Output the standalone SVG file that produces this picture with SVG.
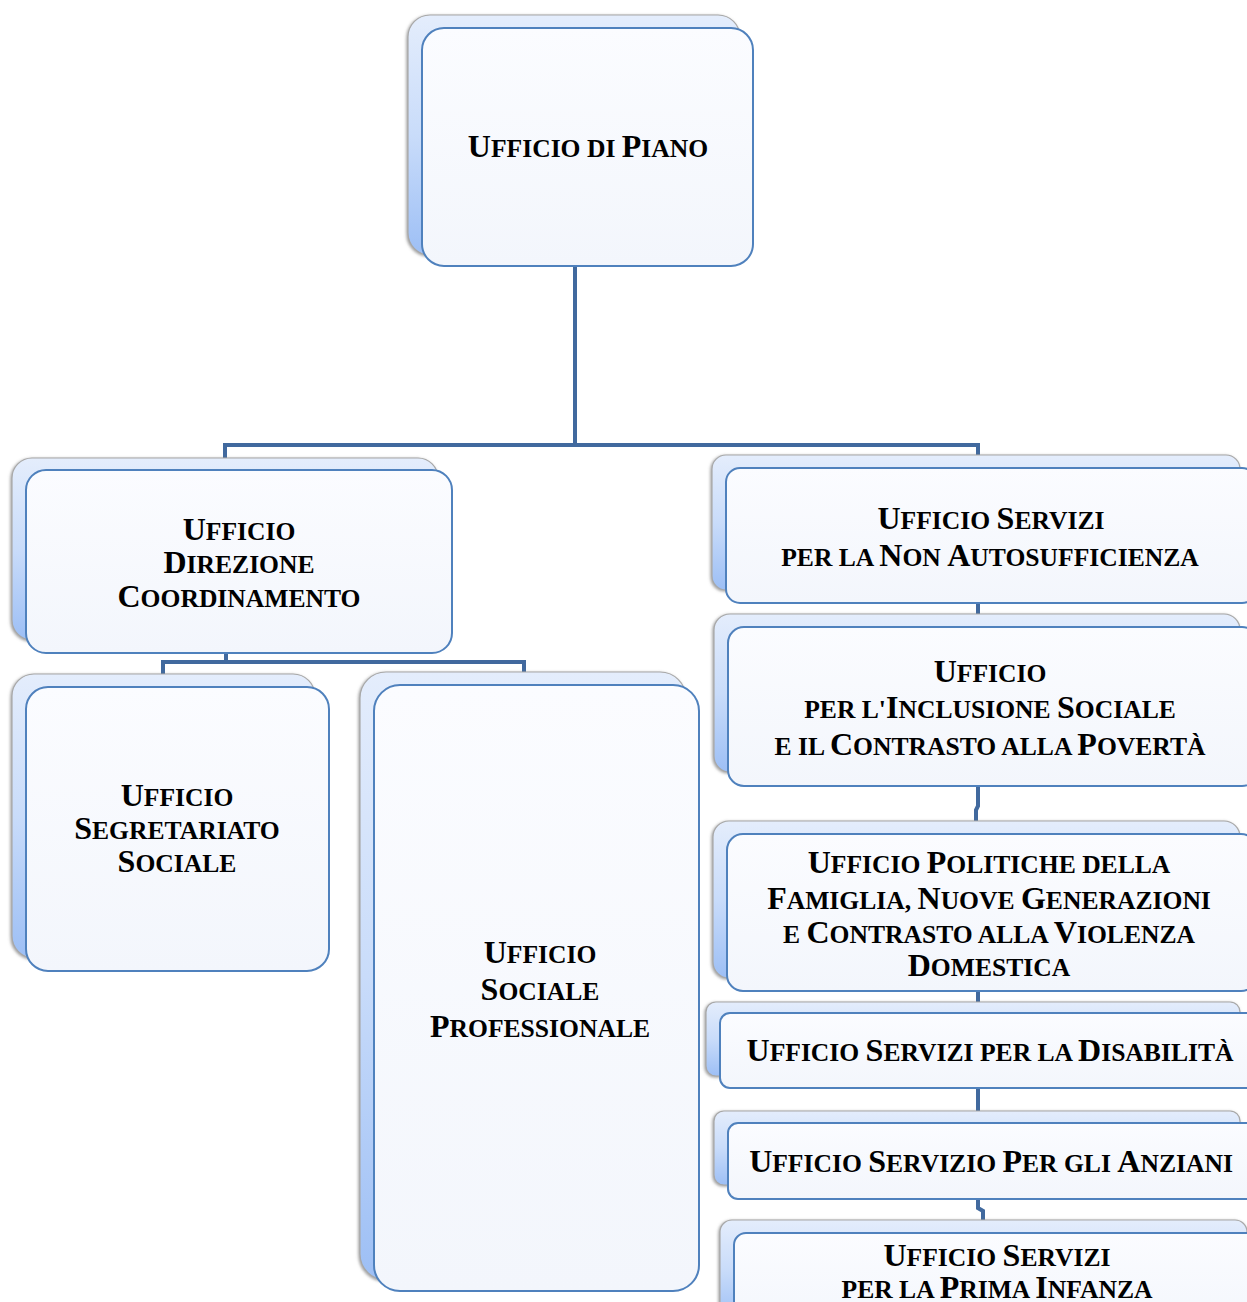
<svg xmlns="http://www.w3.org/2000/svg" width="1247" height="1302" viewBox="0 0 1247 1302">
<defs>
<linearGradient id="bg" x1="0" y1="0" x2="0" y2="1">
<stop offset="0" stop-color="#e4edfc"/>
<stop offset="0.5" stop-color="#c9dcfa"/>
<stop offset="1" stop-color="#9dbff5"/>
</linearGradient>
<linearGradient id="fg" x1="0" y1="0" x2="0" y2="1">
<stop offset="0" stop-color="#fbfcff"/>
<stop offset="1" stop-color="#f3f6fc"/>
</linearGradient>
<filter id="sh" x="-10%" y="-10%" width="120%" height="120%">
<feDropShadow dx="-1" dy="1" stdDeviation="1.5" flood-color="#707070" flood-opacity="0.7"/>
</filter>
<style>
.back{fill:url(#bg);stroke:#a8a8a8;stroke-width:1.2;filter:url(#sh)}
.front{fill:url(#fg);stroke:#4f81bd;stroke-width:2}
.t{font-family:"Liberation Serif","Times New Roman",serif;font-weight:bold;font-size:32px;text-anchor:middle;fill:#000}
.s{font-size:25.6px}
.conn{stroke:#41699e;stroke-width:4;fill:none;stroke-linejoin:miter}
</style>
</defs>
<rect width="1247" height="1302" fill="#ffffff"/>

<g id="connectors">
<path class="conn" d="M575,266 V445 M225,458 V445 H978 V458"/>
<path class="conn" d="M226,653 V662 M163,674 V662 H524 V672"/>
<path class="conn" d="M978,603 V614"/>
<path class="conn" d="M978,786 V806 L976,810 V821"/>
<path class="conn" d="M978,991 V1002"/>
<path class="conn" d="M978,1088 V1111"/>
<path class="conn" d="M978,1199 V1208 L983,1211 V1220"/>
</g>

<g id="ufficio-di-piano">
<rect class="back" x="408" y="15" width="332" height="240" rx="22"/>
<rect class="front" x="422" y="28" width="331" height="238" rx="22"/>
<text class="t" x="588" y="157">U<tspan class="s">FFICIO DI </tspan>P<tspan class="s">IANO</tspan></text>
</g>

<g id="direzione-coordinamento">
<rect class="back" x="12" y="458" width="426" height="182" rx="20"/>
<rect class="front" x="26" y="470" width="426" height="183" rx="20"/>
<text class="t" x="239" y="540">U<tspan class="s">FFICIO</tspan></text>
<text class="t" x="239" y="573">D<tspan class="s">IREZIONE</tspan></text>
<text class="t" x="239" y="607">C<tspan class="s">OORDINAMENTO</tspan></text>
</g>

<g id="segretariato-sociale">
<rect class="back" x="12" y="674" width="303" height="284" rx="22"/>
<rect class="front" x="26" y="687" width="303" height="284" rx="22"/>
<text class="t" x="177" y="806">U<tspan class="s">FFICIO</tspan></text>
<text class="t" x="177" y="839">S<tspan class="s">EGRETARIATO</tspan></text>
<text class="t" x="177" y="872">S<tspan class="s">OCIALE</tspan></text>
</g>

<g id="sociale-professionale">
<rect class="back" x="360" y="672" width="326" height="608" rx="26"/>
<rect class="front" x="374" y="685" width="325" height="606" rx="26"/>
<text class="t" x="540" y="963">U<tspan class="s">FFICIO</tspan></text>
<text class="t" x="540" y="1000">S<tspan class="s">OCIALE</tspan></text>
<text class="t" x="540" y="1037">P<tspan class="s">ROFESSIONALE</tspan></text>
</g>

<g id="non-autosufficienza">
<rect class="back" x="712" y="455" width="528" height="135" rx="14"/>
<rect class="front" x="726" y="468" width="530" height="135" rx="14"/>
<text class="t" x="991" y="529">U<tspan class="s">FFICIO </tspan>S<tspan class="s">ERVIZI</tspan></text>
<text class="t" x="990" y="566"><tspan class="s">PER LA </tspan>N<tspan class="s">ON </tspan>A<tspan class="s">UTOSUFFICIENZA</tspan></text>
</g>

<g id="inclusione-sociale">
<rect class="back" x="714" y="614" width="526" height="158" rx="16"/>
<rect class="front" x="728" y="627" width="530" height="159" rx="16"/>
<text class="t" x="990" y="682">U<tspan class="s">FFICIO</tspan></text>
<text class="t" x="990" y="718"><tspan class="s">PER L'</tspan>I<tspan class="s">NCLUSIONE </tspan>S<tspan class="s">OCIALE</tspan></text>
<text class="t" x="990" y="755"><tspan class="s">E IL </tspan>C<tspan class="s">ONTRASTO ALLA </tspan>P<tspan class="s">OVERTÀ</tspan></text>
</g>

<g id="politiche-famiglia">
<rect class="back" x="713" y="821" width="527" height="157" rx="16"/>
<rect class="front" x="727" y="834" width="530" height="157" rx="16"/>
<text class="t" x="989" y="873">U<tspan class="s">FFICIO </tspan>P<tspan class="s">OLITICHE DELLA</tspan></text>
<text class="t" x="989" y="909">F<tspan class="s">AMIGLIA, </tspan>N<tspan class="s">UOVE </tspan>G<tspan class="s">ENERAZIONI</tspan></text>
<text class="t" x="989" y="943"><tspan class="s">E </tspan>C<tspan class="s">ONTRASTO ALLA </tspan>V<tspan class="s">IOLENZA</tspan></text>
<text class="t" x="989" y="976">D<tspan class="s">OMESTICA</tspan></text>
</g>

<g id="disabilita">
<rect class="back" x="706" y="1002" width="534" height="74" rx="10"/>
<rect class="front" x="720" y="1013" width="540" height="75" rx="10"/>
<text class="t" x="990" y="1061">U<tspan class="s">FFICIO </tspan>S<tspan class="s">ERVIZI PER LA </tspan>D<tspan class="s">ISABILITÀ</tspan></text>
</g>

<g id="anziani">
<rect class="back" x="714" y="1111" width="526" height="74" rx="10"/>
<rect class="front" x="728" y="1123" width="530" height="76" rx="10"/>
<text class="t" x="991" y="1172">U<tspan class="s">FFICIO </tspan>S<tspan class="s">ERVIZIO </tspan>P<tspan class="s">ER GLI </tspan>A<tspan class="s">NZIANI</tspan></text>
</g>

<g id="prima-infanza">
<rect class="back" x="720" y="1220" width="527" height="100" rx="12"/>
<rect class="front" x="734" y="1233" width="530" height="100" rx="12"/>
<text class="t" x="997" y="1266">U<tspan class="s">FFICIO </tspan>S<tspan class="s">ERVIZI</tspan></text>
<text class="t" x="997" y="1298"><tspan class="s">PER LA </tspan>P<tspan class="s">RIMA </tspan>I<tspan class="s">NFANZA</tspan></text>
</g>
</svg>
